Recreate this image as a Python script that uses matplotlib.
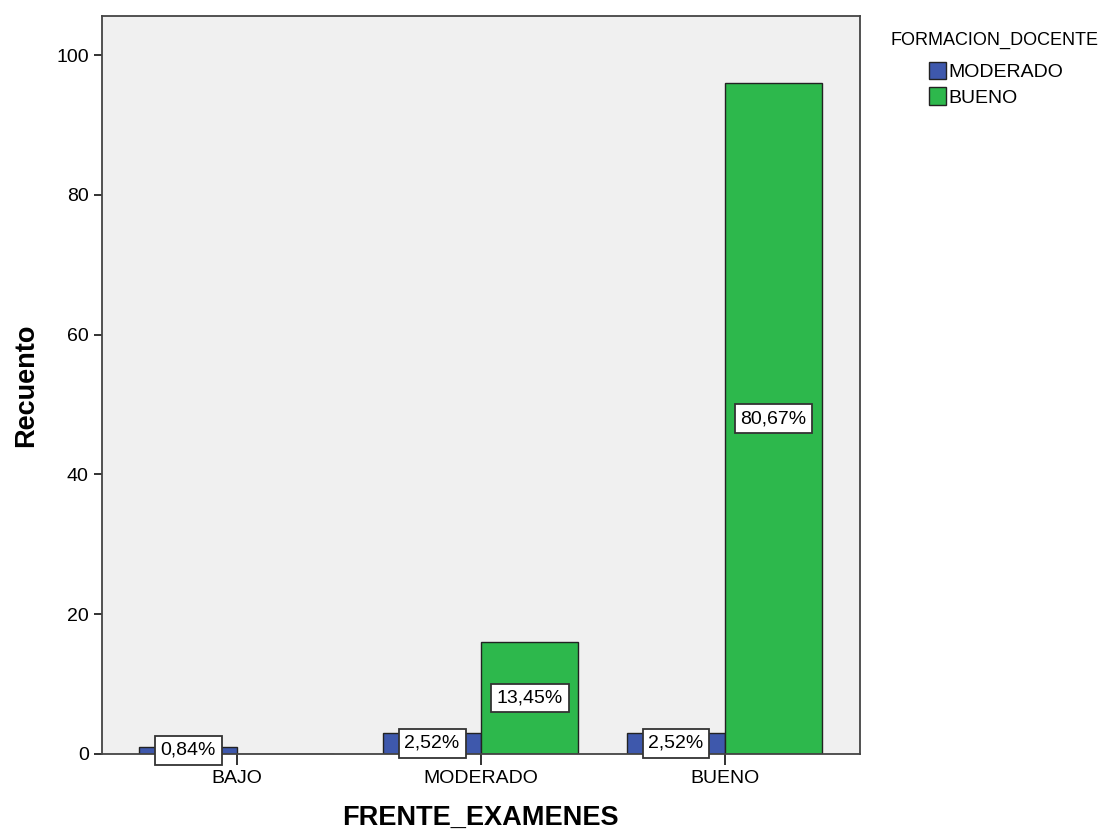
import numpy as np
import matplotlib.pyplot as plt

plt.rcParams['font.family'] = ['Liberation Sans', 'DejaVu Sans']

# Datos
categorias = ['BAJO', 'MODERADO', 'BUENO']
series = ['MODERADO', 'BUENO']
moderado = [1, 3, 3]
bueno = [0, 16, 96]
etiq_moderado = ['0,84%', '2,52%', '2,52%']
etiq_bueno = ['', '13,45%', '80,67%']
colores = ['#3E58AC', '#2DB84C']

fig = plt.figure(figsize=(11.05, 8.32), dpi=100)
ax = fig.add_axes([0.0923, 0.0938, 0.6857, 0.8870])
ax.set_facecolor('#F0F0F0')

x = np.arange(len(categorias))
w = 0.4
b1 = ax.bar(x - w / 2, moderado, w, color=colores[0], edgecolor='#222222', linewidth=1, label=series[0])
b2 = ax.bar(x + w / 2, bueno, w, color=colores[1], edgecolor='#222222', linewidth=1, label=series[1])

caja = dict(boxstyle='square,pad=0.3', facecolor='white', edgecolor='#333333', linewidth=1.3)
for barras, etiqs, vals in [(b1, etiq_moderado, moderado), (b2, etiq_bueno, bueno)]:
    for rect, et, v in zip(barras, etiqs, vals):
        if v == 0:
            continue
        ax.text(rect.get_x() + rect.get_width() / 2, v / 2, et, ha='center', va='center',
                fontsize=14, bbox=caja, zorder=5)

ax.set_xlim(-0.553, 2.553)
ax.set_ylim(0, 105.6)
ax.set_yticks([0, 20, 40, 60, 80, 100])
ax.set_xticks(x)
ax.set_xticklabels(categorias)
ax.tick_params(axis='both', labelsize=14, direction='out', color='#222222')
ax.tick_params(axis='x', length=8, width=1.3)
ax.tick_params(axis='y', length=6, width=1.3)
for s in ax.spines.values():
    s.set_color('#444444')
    s.set_linewidth(1.3)

ax.set_ylabel('Recuento', fontsize=19.5, fontweight='bold', labelpad=12)
ax.set_xlabel('FRENTE_EXAMENES', fontsize=19.5, fontweight='bold', labelpad=13)

fig.text(995 / 1105, 1 - 40 / 832, 'FORMACION_DOCENTE', ha='center', va='center', fontsize=13)
leg = ax.legend(loc='upper left', bbox_to_anchor=(929 / 1105, 1 - 62 / 832),
                bbox_transform=fig.transFigure, frameon=False, fontsize=14,
                borderpad=0, borderaxespad=0, handlelength=0.85, handleheight=1.0,
                handletextpad=0.15, labelspacing=0.3)
for h in leg.legend_handles:
    h.set_edgecolor('#222222')

fig.savefig('out.png', dpi=100)
